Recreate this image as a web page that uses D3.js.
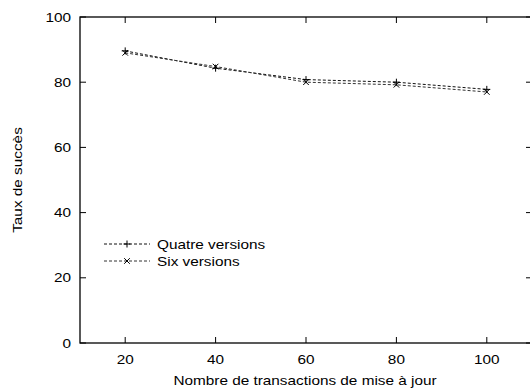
<!DOCTYPE html>
<html><head><meta charset="utf-8">
<script src="https://cdn.jsdelivr.net/npm/d3@7/dist/d3.min.js"></script>
<style>body{margin:0;background:#fff}text{font-family:"Liberation Sans",Arial,sans-serif;}</style>
</head><body><svg id="c" width="530" height="392"></svg>
<script>
const xValues = [20, 40, 60, 80, 100];
const quatre = [89.6, 84.3, 80.8, 80.0, 77.8];
const six = [89.0, 84.8, 80.0, 79.2, 77.0];
const xTicks = [20, 40, 60, 80, 100];
const yTicks = [0, 20, 40, 60, 80, 100];
const seriesNames = ["Quatre versions", "Six versions"];

const svg = d3.select("#c");
const L = 80, R = 532, T = 17, B = 343;
const FS = 13, SX = 1.18;
const x = d3.scaleLinear().domain([10, 110]).range([L, R]);
const y = d3.scaleLinear().domain([0, 100]).range([B, T]);

function label(px, py, txt, anchor, rot) {
  return svg.append("text")
    .attr("transform", `translate(${px},${py})` + (rot ? " rotate(-90)" : "") + ` scale(${SX},1)`)
    .attr("dy", "0.36em").attr("text-anchor", anchor).attr("font-size", FS).attr("fill", "#000").text(txt);
}

svg.append("rect").attr("x", L).attr("y", T).attr("width", R - L).attr("height", B - T)
  .attr("fill", "none").attr("stroke", "#000").attr("stroke-width", 1.3);

const tl = 6;
yTicks.forEach(d => {
  svg.append("line").attr("x1", L).attr("x2", L + tl).attr("y1", y(d)).attr("y2", y(d)).attr("stroke", "#000");
  svg.append("line").attr("x1", R).attr("x2", R - tl).attr("y1", y(d)).attr("y2", y(d)).attr("stroke", "#000");
  label(L - 9, y(d), d, "end");
});
xTicks.forEach(d => {
  svg.append("line").attr("x1", x(d)).attr("x2", x(d)).attr("y1", B).attr("y2", B - tl).attr("stroke", "#000");
  svg.append("line").attr("x1", x(d)).attr("x2", x(d)).attr("y1", T).attr("y2", T + tl).attr("stroke", "#000");
  label(x(d), 359, d, "middle");
});

label(305, 380, "Nombre de transactions de mise à jour", "middle");
label(17, 180, "Taux de succès", "middle", true);

const line = d3.line().x((d, i) => x(xValues[i])).y(d => y(d));
const data = [quatre, six];
const col = ["#111", "#333"];

function marker(g, cx, cy, type) {
  const s = 3.5;
  if (type === 0) {
    g.append("path").attr("d", `M${cx - s},${cy}H${cx + s}M${cx},${cy - s}V${cy + s}`).attr("stroke", "#000").attr("stroke-width", 1);
  } else {
    g.append("path").attr("d", `M${cx - s * 0.8},${cy - s * 0.8}L${cx + s * 0.8},${cy + s * 0.8}M${cx - s * 0.8},${cy + s * 0.8}L${cx + s * 0.8},${cy - s * 0.8}`).attr("stroke", "#000").attr("stroke-width", 1);
  }
}

data.forEach((ser, k) => {
  svg.append("path").attr("d", line(ser)).attr("fill", "none").attr("stroke", col[k])
    .attr("stroke-width", 1).attr("stroke-dasharray", "3,2");
  const g = svg.append("g");
  ser.forEach((v, i) => marker(g, x(xValues[i]), y(v), k));
  const ly = 244 + k * 17;
  svg.append("line").attr("x1", 104).attr("x2", 150).attr("y1", ly).attr("y2", ly)
    .attr("stroke", col[k]).attr("stroke-dasharray", "3,2");
  marker(svg.append("g"), 127, ly, k);
  label(157, ly, seriesNames[k], "start");
});
</script></body></html>
